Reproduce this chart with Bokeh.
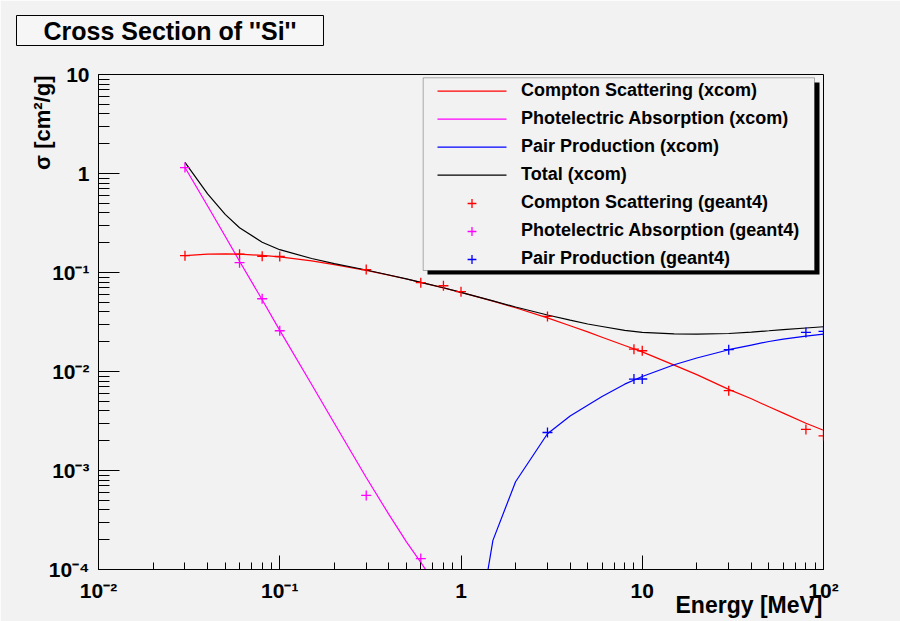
from bokeh.plotting import figure
from bokeh.models import (Range1d, FixedTicker, Legend, LegendItem, BoxAnnotation, Title)
from bokeh.embed import file_html
from bokeh.resources import INLINE

# ---------------- data ----------------
E_xcom = [0.03, 0.04, 0.05, 0.06, 0.08, 0.1, 0.15, 0.2, 0.3, 0.4, 0.5, 0.6, 0.8, 1,
          1.5, 2, 3, 4, 5, 6, 8, 10, 15, 20, 30, 40, 50, 60, 80, 100]
compton_xcom = [0.148, 0.153, 0.154, 0.153, 0.149, 0.144, 0.131, 0.120, 0.105, 0.094,
                0.086, 0.0795, 0.070, 0.063, 0.0514, 0.044, 0.0348, 0.029, 0.0251, 0.0222,
                0.0183, 0.0158, 0.0116, 0.0093, 0.0066, 0.0053, 0.0044, 0.0038, 0.0030, 0.00255]
total_xcom = [1.298, 0.623, 0.386, 0.283, 0.202, 0.170, 0.1384, 0.123, 0.1059, 0.0944,
              0.0862, 0.0796, 0.0701, 0.0630, 0.0516, 0.0448, 0.0372, 0.0330, 0.0302, 0.0285,
              0.0260, 0.0248, 0.0240, 0.0239, 0.0242, 0.0250, 0.0258, 0.0265, 0.0275, 0.0283]

E_photo_xcom = [0.03, 0.04, 0.05, 0.06, 0.08, 0.1, 0.15, 0.2, 0.3, 0.4, 0.5, 0.6, 0.8]
photo_xcom = [1.15, 0.47, 0.232, 0.13, 0.053, 0.026, 0.0074, 0.0030, 0.00085, 0.00036,
              0.00019, 0.000118, 0.000054]

E_pair_xcom = [1.25, 1.5, 2, 3, 4, 5, 6, 8, 10, 15, 20, 30, 40, 50, 60, 80, 100]
pair_xcom = [2.7e-5, 1.97e-4, 7.7e-4, 2.35e-3, 3.56e-3, 4.57e-3, 5.6e-3, 7.45e-3, 8.9e-3,
             0.0117, 0.0137, 0.0166, 0.0185, 0.0201, 0.0212, 0.0228, 0.0239]

E_compton_g4 = [0.03, 0.06, 0.08, 0.1, 0.3, 0.6, 0.8, 1, 3, 9, 10, 30, 80, 100]
compton_g4 = [0.148, 0.153, 0.146, 0.145, 0.107, 0.079, 0.0735, 0.064, 0.036, 0.0168,
              0.0162, 0.0064, 0.0026, 0.00224]
E_photo_g4 = [0.03, 0.06, 0.08, 0.1, 0.3, 0.6]
photo_g4 = [1.148, 0.1256, 0.0543, 0.0258, 0.00056, 0.000129]
E_pair_g4 = [3, 9, 10, 30, 80, 100]
pair_g4 = [0.00242, 0.00838, 0.0084, 0.0166, 0.0248, 0.0254]

x_ticks = [0.01, 0.1, 1, 10, 100]
x_tick_labels = ["10\u207b\u00b2", "10\u207b\u00b9", "1", "10", "10\u00b2"]
y_ticks = [1e-4, 1e-3, 1e-2, 1e-1, 1, 10]
y_tick_labels = ["10\u207b\u2074", "10\u207b\u00b3", "10\u207b\u00b2", "10\u207b\u00b9", "1", "10"]

title_text = "Cross Section of ''Si''"
x_title = "Energy [MeV]"
y_title = "\u03c3 [cm\u00b2/g]"
labels = ["Compton Scattering (xcom)", "Photelectric Absorption (xcom)",
          "Pair Production (xcom)", "Total (xcom)",
          "Compton Scattering (geant4)", "Photelectric Absorption (geant4)",
          "Pair Production (geant4)"]
line_colors = ["red", "magenta", "blue", "black"]

# ---------------- styling ----------------
BG = "#f2f2f2"
FONT = "Liberation Sans"
FL = 98.0      # frame left (page px)
FB = 569.0     # frame bottom (page px)
LEG_TOP = 79.7
ROW_H, ROW_GAP = 22, 6


def fx(px):
    return px - FL


def fy(py):
    return FB - py


def screen_box(l, r, t, b, **kw):
    return BoxAnnotation(left=fx(l), right=fx(r), top=fy(t), bottom=fy(b),
                         left_units="screen", right_units="screen",
                         top_units="screen", bottom_units="screen", **kw)


p = figure(frame_width=725, frame_height=495,
           x_axis_type="log", y_axis_type="log",
           x_range=Range1d(0.01, 100), y_range=Range1d(1e-4, 10),
           output_backend="svg", toolbar_location=None,
           min_border_left=98, min_border_right=77,
           min_border_top=74, min_border_bottom=52,
           background_fill_color=BG, border_fill_color=BG)

p.xgrid.visible = False
p.ygrid.visible = False
p.outline_line_color = "black"
p.outline_line_width = 1
p.outline_line_alpha = 1

x_minor = [k * 10.0 ** n for n in range(-2, 2) for k in range(2, 10)]
y_minor = [k * 10.0 ** n for n in range(-4, 1) for k in range(2, 10)]
p.xaxis.ticker = FixedTicker(ticks=x_ticks, minor_ticks=x_minor)
p.yaxis.ticker = FixedTicker(ticks=y_ticks, minor_ticks=y_minor)
p.xaxis.major_label_overrides = dict(zip(x_ticks, x_tick_labels))
p.yaxis.major_label_overrides = dict(zip(y_ticks, y_tick_labels))
for ax in (p.xaxis, p.yaxis):
    ax.major_label_text_font = FONT
    ax.major_label_text_font_style = "bold"
    ax.major_label_text_font_size = "21px"
    ax.major_label_text_color = "black"
    ax.major_tick_out = 0
    ax.minor_tick_out = 0
    ax.axis_line_color = "black"
    ax.major_tick_line_color = "black"
    ax.minor_tick_line_color = "black"
p.xaxis.major_tick_in = 14
p.xaxis.minor_tick_in = 7
p.yaxis.major_tick_in = 21
p.yaxis.minor_tick_in = 11
p.xaxis.major_label_standoff = 9
p.yaxis.major_label_standoff = 9

# ---------------- glyphs ----------------
r_c = p.line(E_xcom, compton_xcom, line_color="red", line_width=1.2)
r_p = p.line(E_photo_xcom, photo_xcom, line_color="magenta", line_width=1.2)
r_pp = p.line(E_pair_xcom, pair_xcom, line_color="blue", line_width=1.2)
r_t = p.line(E_xcom, total_xcom, line_color="black", line_width=1.2)
s_c = p.scatter(E_compton_g4, compton_g4, marker="cross", size=10, line_color="red", line_width=1.3)
s_p = p.scatter(E_photo_g4, photo_g4, marker="cross", size=10, line_color="magenta", line_width=1.3)
s_pp = p.scatter(E_pair_g4, pair_g4, marker="cross", size=10, line_color="blue", line_width=1.3)

# legend placeholders for the xcom curves (their coloured samples are drawn below)
leg_lines = [p.line([], [], line_color=c, line_alpha=0) for c in line_colors]

# ---------------- legend box + shadow ----------------
p.add_layout(screen_box(427, 819, 82, 274, fill_color="black", fill_alpha=1, line_color=None))
p.add_layout(screen_box(422.7, 814, 77.3, 270, fill_color=BG, fill_alpha=1,
                        line_color="black", line_width=1))

legend = Legend(items=[LegendItem(label=l, renderers=[r]) for l, r in
                       zip(labels, leg_lines + [s_c, s_p, s_pp])],
                location=(fx(437), fy(LEG_TOP + 7 * ROW_H + 6 * ROW_GAP)),
                padding=0, margin=0, spacing=ROW_GAP, glyph_width=69, glyph_height=ROW_H,
                label_height=ROW_H, label_standoff=15,
                label_text_font=FONT, label_text_font_style="bold",
                label_text_font_size="18px", label_text_color="black",
                border_line_color=None, background_fill_alpha=0)
p.add_layout(legend)

# coloured line samples of the legend
for i, c in enumerate(line_colors):
    yc = LEG_TOP + ROW_H / 2 + i * (ROW_H + ROW_GAP)
    p.add_layout(screen_box(437, 506, yc - 0.65, yc + 0.65,
                            fill_color=c, fill_alpha=1, line_color=None))

# ---------------- titles ----------------
main_title = Title(text=title_text, align="left", offset=16 - FL, vertical_align="middle",
                   standoff=0, text_font=FONT, text_font_style="bold", text_font_size="25px",
                   text_color="black", background_fill_color="#f6f6f6",
                   border_line_color="black", border_line_width=1)
try:
    main_title.padding = dict(left=27, right=27, top=1, bottom=1)
except Exception:
    pass
p.title = main_title
p.title_location = "above"
# spacer between the frame and the title box
p.add_layout(Title(text=" ", text_font_size="10px", standoff=15), "above")

p.add_layout(Title(text=x_title, align="right", offset=1, vertical_align="top", standoff=-26,
                   text_font=FONT, text_font_style="bold", text_font_size="23px",
                   text_color="black"), "below")
p.add_layout(Title(text=y_title, align="right", offset=1, vertical_align="bottom", standoff=-18,
                   text_font=FONT, text_font_style="bold", text_font_size="22px",
                   text_color="black"), "left")

open("out.html", "w").write(file_html(p, INLINE))
